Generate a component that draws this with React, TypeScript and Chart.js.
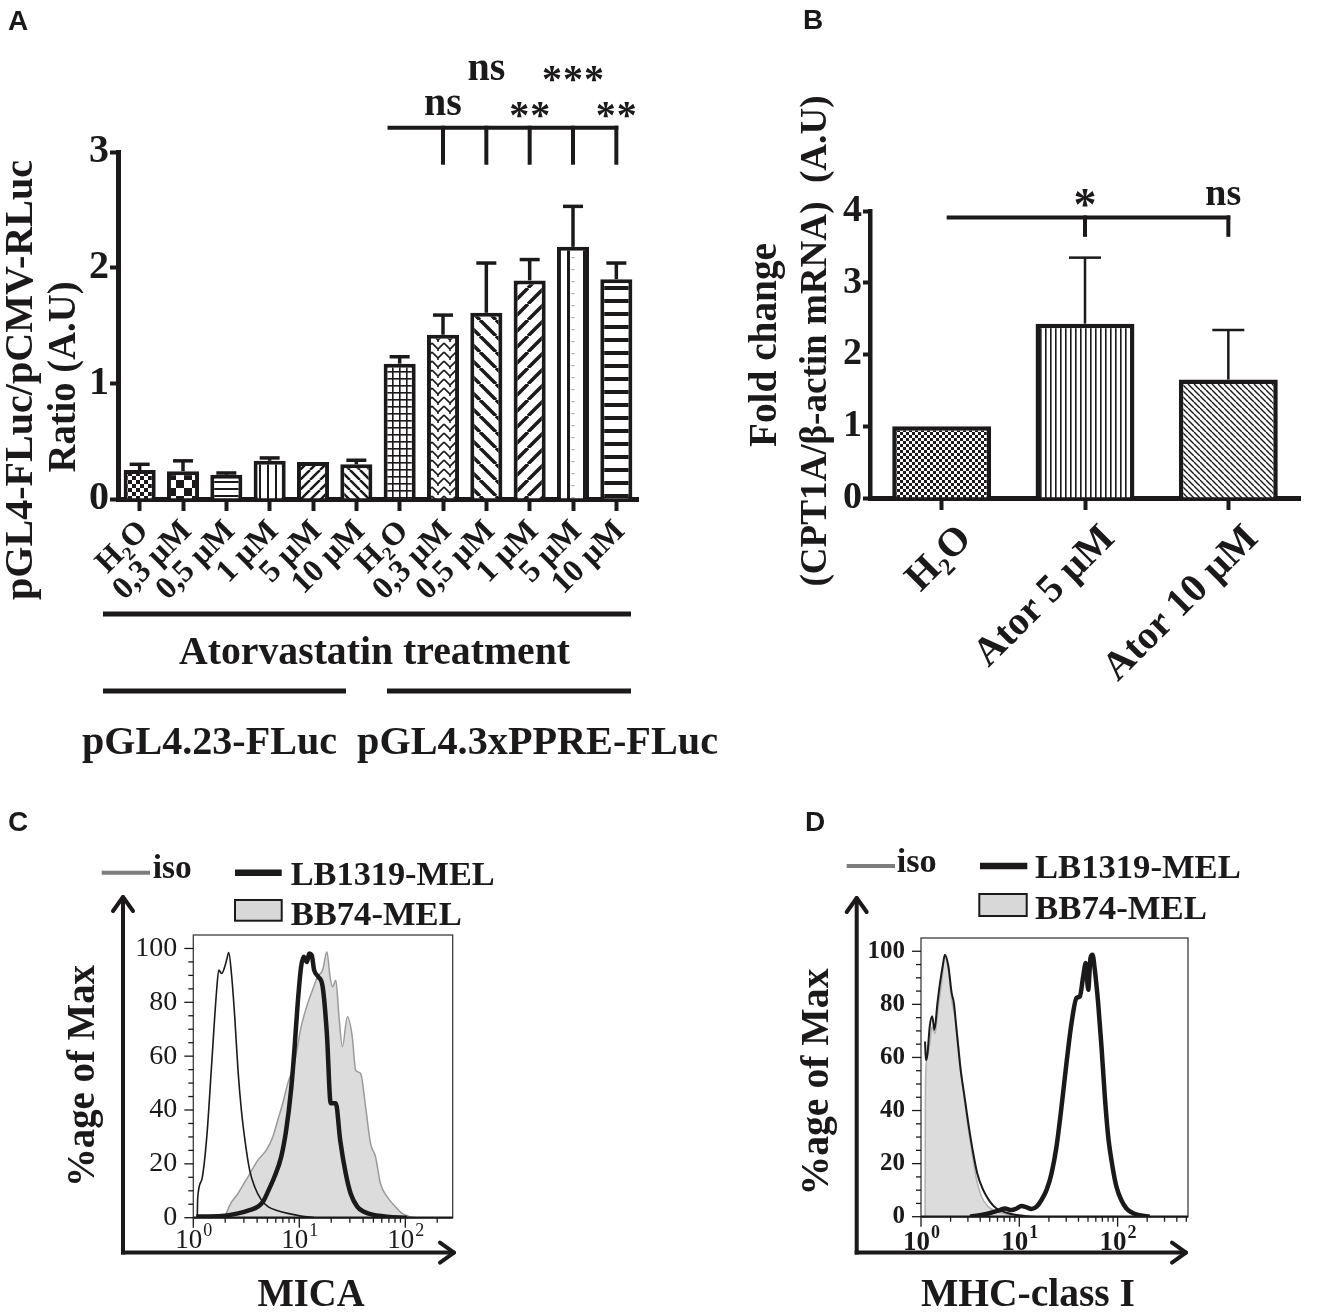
import React, { useEffect, useRef } from 'react';
import { Chart, registerables } from 'chart.js';

Chart.register(...registerables);

const SERIF = '"Liberation Serif", "Times New Roman", Times, serif';
const SANS = '"Liberation Sans", Arial, Helvetica, sans-serif';
const INK = '#1b1919';

// ---------------- Panel A data ----------------
const aCategories = ['H₂O', '0,3 µM', '0,5 µM', '1 µM', '5 µM', '10 µM', 'H₂O', '0,3 µM', '0,5 µM', '1 µM', '5 µM', '10 µM'];
const aMeans = [0.25, 0.24, 0.21, 0.33, 0.32, 0.30, 1.17, 1.42, 1.61, 1.89, 2.18, 1.90];
const aErrors = [0.05, 0.09, 0.015, 0.025, 0, 0.035, 0.06, 0.17, 0.43, 0.18, 0.35, 0.14];
const aPatterns = ['checkFine', 'checkBig', 'hLines', 'vLines', 'diagUp', 'diagDown', 'grid', 'weave', 'diagDownWide', 'diagUpWide', 'vSparse', 'hLinesWide'];
const aSignificance = ['', '', '', '', '', '', '', 'ns', 'ns', '**', '***', '**'];
const aYTitle = ['pGL4-FLuc/pCMV-RLuc', 'Ratio (A.U)'];
const aTreatment = 'Atorvastatin treatment';
const aGroups = ['pGL4.23-FLuc', 'pGL4.3xPPRE-FLuc'];

// ---------------- Panel B data ----------------
const bCategories = ['H₂O', 'Ator 5 µM', 'Ator 10 µM'];
const bMeans = [1.0, 2.43, 1.65];
const bErrors = [0, 0.92, 0.69];
const bPatterns = ['checkTiny', 'vFine', 'diagFine'];
const bSignificance = ['', '*', 'ns'];
const bYTitle = ['Fold change', '(CPT1A/β-actin mRNA)  (A.U)'];

// ---------------- Panel C data (MICA) ----------------
const cIsoX = [1.09, 1.10, 1.20, 1.34, 1.49, 1.66, 1.74, 1.85, 1.98, 2.08, 2.16, 2.29, 2.46, 2.64, 2.84, 3.10, 3.40, 3.79, 4.38, 5.06, 6.27, 7.78, 10.4, 13.8];
const cIsoY = [0, 7.2, 14, 30, 57, 84.5, 92, 90.7, 93.2, 96.3, 98.5, 90.7, 74.6, 54.8, 40, 27.6, 17.7, 11.5, 6.6, 4.1, 2.6, 1.6, 0.6, 0.1];
const cLbX = [1.07, 1.85, 2.64, 3.40, 4.07, 4.54, 5.06, 5.83, 6.75, 7.52, 8.36, 8.99, 9.66, 10.4, 11.0, 11.8, 12.4, 13.1, 13.8, 15.1, 16.6, 18.2, 19.8, 22.1, 24.3, 27.4, 30.5, 35.2, 40.7, 50.5, 67.3, 104];
const cLbY = [0.4, 0.6, 1.6, 2.8, 4.1, 5.9, 9.7, 15.2, 22.6, 32.5, 47.4, 62.3, 79.6, 93.2, 96.9, 95, 98.1, 97.5, 92, 89.5, 85.8, 68.4, 42.5, 42.5, 28.8, 16.5, 9, 4.1, 2.2, 1, 0.4, 0];
const cBbX = [1.98, 2.21, 2.64, 3.28, 4.07, 4.88, 5.62, 6.27, 6.98, 7.78, 8.99, 10.4, 12.0, 13.3, 14.9, 16.6, 18.2, 19.5, 20.6, 22.1, 23.7, 25.5, 28.4, 31.6, 34.0, 37.9, 42.2, 47.0, 52.4, 58.3, 67.3, 80.7, 93.1, 111, 129];
const cBbY = [0, 4.7, 9, 15.2, 21.4, 25.1, 30, 36.3, 42.5, 49.9, 57.3, 70.9, 79.6, 84.5, 89.5, 92, 98.8, 89.5, 85.8, 88.2, 74.6, 63.5, 74.6, 67.2, 54.8, 53.6, 41.2, 27.6, 22.6, 12.7, 7.8, 4.1, 1.6, 0.4, 0];

// ---------------- Panel D data (MHC-class I) ----------------
const dIsoX = [1.10, 1.12, 1.16, 1.23, 1.30, 1.37, 1.47, 1.56, 1.66, 1.75, 1.90, 2.05, 2.16, 2.30, 2.53, 2.74, 3.03, 3.35, 3.73, 4.30, 5.02, 5.87, 7.43, 9.38, 12.8];
const dIsoY = [66, 59, 61, 72, 75.5, 70.4, 80.5, 88, 94.3, 98.7, 94.3, 84.3, 80.5, 70.4, 55.3, 46.5, 35.2, 25.2, 16.4, 10, 5.7, 3.1, 1.5, 0.6, 0];
const dBbX = [1.10, 1.11, 1.16, 1.23, 1.30, 1.39, 1.50, 1.62, 1.75, 1.90, 2.05, 2.21, 2.39, 2.59, 2.91, 3.27, 3.68, 4.13, 4.83, 5.87, 7.43, 9.38, 11.9, 15.0];
const dBbY = [0, 50.3, 60.4, 65.4, 71.7, 69, 79.2, 88, 98, 93, 81.8, 75.5, 65.4, 52.8, 37.7, 25.2, 13.8, 7.5, 3.8, 1.9, 1, 0.6, 0.4, 0];
const dLbX = [3.15, 3.68, 4.65, 5.65, 6.35, 7.14, 8.34, 9.38, 10.5, 11.9, 13.3, 15.0, 16.8, 18.9, 21.3, 23.9, 26.9, 30.2, 34.0, 38.2, 41.3, 44.7, 47.5, 50.2, 53.0, 55.6, 58.6, 63.4, 68.5, 74.1, 80.2, 88.7, 97.3, 109, 123, 144, 168, 212];
const dLbY = [0, 0.4, 1, 1.9, 2.5, 3.1, 2.5, 3.1, 4, 3.5, 2.9, 3.8, 6.3, 10, 16.4, 26.4, 41.5, 57.9, 73, 82.4, 83, 90.6, 95.6, 85.5, 97.5, 98.7, 93, 80.5, 64.2, 45.3, 30.2, 18.9, 11.3, 6.3, 3.1, 1.3, 0.6, 0];

const histLegend = ['iso', 'LB1319-MEL', 'BB74-MEL'];
const histYTitle = '%age of Max';

// ---------------- helpers ----------------
function txt(ctx: any, s: string, x: number, y: number, o: any) {
  ctx.save();
  ctx.font = o.font;
  ctx.fillStyle = o.color || INK;
  ctx.textAlign = o.align || 'center';
  ctx.textBaseline = o.baseline || 'alphabetic';
  ctx.translate(x, y);
  if (o.rotate) ctx.rotate(o.rotate);
  if (o.width) {
    const w = ctx.measureText(s).width;
    ctx.scale(o.width / w, 1);
  }
  ctx.fillText(s, 0, 0);
  ctx.restore();
}

function seg(ctx: any, x1: number, y1: number, x2: number, y2: number, w: number, color = INK, cap = 'butt') {
  ctx.save();
  ctx.strokeStyle = color;
  ctx.lineWidth = w;
  ctx.lineCap = cap;
  ctx.beginPath();
  ctx.moveTo(x1, y1);
  ctx.lineTo(x2, y2);
  ctx.stroke();
  ctx.restore();
}

function makePattern(kind: string): any {
  const c = document.createElement('canvas');
  const g = c.getContext('2d') as CanvasRenderingContext2D;
  const sz = (w: number, h = w) => {
    c.width = w; c.height = h;
    g.fillStyle = '#fff'; g.fillRect(0, 0, w, h);
    g.fillStyle = INK; g.strokeStyle = INK;
  };
  const diag = (s: number, lw: number, up: boolean) => {
    sz(s); g.lineWidth = lw; g.beginPath();
    for (const o of [-s, 0, s]) {
      if (up) { g.moveTo(o, s); g.lineTo(o + s, 0); } else { g.moveTo(o, 0); g.lineTo(o + s, s); }
    }
    g.stroke();
  };
  switch (kind) {
    case 'checkFine': sz(8); g.fillRect(0, 0, 4, 4); g.fillRect(4, 4, 4, 4); break;
    case 'checkBig': sz(16); g.fillRect(0, 0, 8, 8); g.fillRect(8, 8, 8, 8); break;
    case 'hLines': sz(8, 7); g.fillRect(0, 5, 8, 2); break;
    case 'vLines': sz(8); g.fillRect(3, 0, 2, 8); break;
    case 'diagUp': diag(10, 2.5, true); break;
    case 'diagDown': diag(10, 2.5, false); break;
    case 'grid': sz(7); g.fillRect(0, 0, 7, 1.6); g.fillRect(0, 0, 1.6, 7); break;
    case 'weave': sz(12, 9); g.lineWidth = 1.6; g.beginPath(); g.moveTo(0, 1); g.lineTo(6, 7); g.lineTo(12, 1); g.moveTo(6, 7); g.lineTo(6, 9); g.stroke(); break;
    case 'diagDownWide': diag(16, 3.5, false); break;
    case 'diagUpWide': diag(16, 3.5, true); break;
    case 'vSparse': sz(16, 12); g.fillRect(7, 0, 3, 12); g.fillStyle = '#bdbdbd'; g.fillRect(11, 5, 4, 1.2); break;
    case 'hLinesWide': sz(8, 13); g.fillRect(0, 0, 8, 4); break;
    case 'checkTiny': sz(6); g.fillRect(0, 0, 3, 3); g.fillRect(3, 3, 3, 3); break;
    case 'vFine': sz(5); g.fillRect(0, 0, 1.6, 5); break;
    case 'diagFine': diag(6, 1.4, false); break;
    default: sz(4);
  }
  return g.createPattern(c, 'repeat') || '#fff';
}

const fixH = (h: number) => (s: any) => { s.height = h; s.paddingLeft = 0; s.paddingRight = 0; };
const fixW = (w: number) => (s: any) => { s.width = w; s.paddingTop = 0; s.paddingBottom = 0; };

const baseOptions = {
  responsive: true,
  maintainAspectRatio: false,
  animation: false,
  events: [],
  plugins: { legend: { display: false }, tooltip: { enabled: false } },
};

// ---------------- Panel A ----------------
const panelAPlugin = {
  id: 'panelA',
  afterDraw(chart: any) {
    const ctx = chart.ctx;
    const xs = chart.scales.x, ys = chart.scales.y;
    const meta = chart.getDatasetMeta(0);
    meta.data.forEach((bar: any, i: number) => {
      if (!aErrors[i]) return;
      const yt = ys.getPixelForValue(aMeans[i] + aErrors[i]);
      seg(ctx, bar.x, bar.y, bar.x, yt, 3.5);
      seg(ctx, bar.x - 10, yt, bar.x + 10, yt, 3.5);
    });
    // significance bracket
    const first = aSignificance.findIndex((s) => s);
    const last = aSignificance.length - 1;
    const cat = xs.getPixelForValue(1) - xs.getPixelForValue(0);
    const yb = ys.getPixelForValue(3.21);
    const yd = ys.getPixelForValue(2.89);
    seg(ctx, xs.getPixelForValue(first - 1) - 0.28 * cat, yb, xs.getPixelForValue(last) + 2, yb, 4);
    aSignificance.forEach((s, i) => {
      if (!s) return;
      const px = xs.getPixelForValue(i);
      seg(ctx, px, yb - 2, px, yd, 4);
      const upper = (i - first) % 2 === 1;
      if (s === 'ns') {
        txt(ctx, s, px, ys.getPixelForValue(upper ? 3.625 : 3.32), { font: `bold 40px ${SERIF}` });
      } else {
        const n = s.length;
        const by = ys.getPixelForValue(upper ? 3.52 : 3.21);
        for (let k = 0; k < n; k++) {
          txt(ctx, '*', px + (k - (n - 1) / 2) * 21, by, { font: `bold 40px ${SERIF}` });
        }
      }
    });
    // y title
    txt(ctx, aYTitle[0], 32, 380, { font: `bold 39px ${SERIF}`, rotate: -Math.PI / 2, width: 440 });
    txt(ctx, aYTitle[1], 75, 377, { font: `bold 39px ${SERIF}`, rotate: -Math.PI / 2, width: 191 });
    // treatment / group annotations
    seg(ctx, 103, 614, 631, 614, 5);
    txt(ctx, aTreatment, 374.5, 664, { font: `bold 40px ${SERIF}`, width: 391 });
    seg(ctx, 103, 691, 346, 691, 5);
    seg(ctx, 387, 691, 631, 691, 5);
    txt(ctx, aGroups[0], 209.5, 754, { font: `bold 40px ${SERIF}`, width: 255 });
    txt(ctx, aGroups[1], 537.5, 754, { font: `bold 40px ${SERIF}`, width: 361 });
    // panel letter
    txt(ctx, 'A', 8, 30, { font: `bold 28px ${SANS}`, align: 'left' });
  },
};

function configA() {
  return {
    type: 'bar',
    data: {
      labels: aCategories,
      datasets: [{
        data: aMeans,
        backgroundColor: aPatterns.map(makePattern),
        borderColor: INK,
        borderWidth: 4,
        barPercentage: 0.74,
        categoryPercentage: 1,
      }],
    },
    options: {
      ...baseOptions,
      layout: { padding: { top: 152, right: 102, bottom: 0, left: 0 } },
      scales: {
        x: {
          offset: true,
          grid: { offset: false, drawOnChartArea: false, tickLength: 12, tickWidth: 4, tickColor: INK },
          border: { width: 5, color: INK },
          ticks: { color: INK, font: { family: SERIF, size: 32, weight: 'bold' }, minRotation: 45, maxRotation: 45, autoSkip: false, padding: 2, labelOffset: 4 },
          afterFit: fixH(291),
        },
        y: {
          min: 0, max: 3,
          ticks: { stepSize: 1, color: INK, font: { family: SERIF, size: 40, weight: 'bold' }, padding: 1 },
          grid: { drawOnChartArea: false, tickLength: 8, tickWidth: 4, tickColor: INK },
          border: { width: 5, color: INK },
          afterFit: fixW(118),
        },
      },
    },
    plugins: [panelAPlugin],
  };
}

// ---------------- Panel B ----------------
const panelBPlugin = {
  id: 'panelB',
  afterDraw(chart: any) {
    const ctx = chart.ctx;
    const xs = chart.scales.x, ys = chart.scales.y;
    const meta = chart.getDatasetMeta(0);
    meta.data.forEach((bar: any, i: number) => {
      if (!bErrors[i]) return;
      const yt = ys.getPixelForValue(bMeans[i] + bErrors[i]);
      seg(ctx, bar.x, bar.y, bar.x, yt, 2.5);
      seg(ctx, bar.x - 16, yt, bar.x + 16, yt, 2.5);
    });
    const yb = ys.getPixelForValue(3.91);
    const yd = ys.getPixelForValue(3.64);
    const last = bSignificance.length - 1;
    seg(ctx, xs.getPixelForValue(0) + 5, yb, xs.getPixelForValue(last) + 2, yb, 4);
    bSignificance.forEach((s, i) => {
      if (!s) return;
      const px = xs.getPixelForValue(i);
      seg(ctx, px, yb - 2, px, yd, 4);
      if (s === 'ns') txt(ctx, s, px - 5, ys.getPixelForValue(4.08), { font: `bold 38px ${SERIF}` });
      else txt(ctx, s, px, ys.getPixelForValue(3.88), { font: `bold 46px ${SERIF}` });
    });
    txt(ctx, bYTitle[0], 116, 345, { font: `bold 39px ${SERIF}`, rotate: -Math.PI / 2, width: 204 });
    txt(ctx, bYTitle[1], 166, 341, { font: `bold 37px ${SERIF}`, rotate: -Math.PI / 2, width: 491 });
    txt(ctx, 'B', 143, 29, { font: `bold 28px ${SANS}`, align: 'left' });
  },
};

function configB() {
  return {
    type: 'bar',
    data: {
      labels: bCategories,
      datasets: [{
        data: bMeans,
        backgroundColor: bPatterns.map(makePattern),
        borderColor: INK,
        borderWidth: 4.5,
        barPercentage: 0.69,
        categoryPercentage: 1,
      }],
    },
    options: {
      ...baseOptions,
      layout: { padding: { top: 211, right: 20, bottom: 0, left: 0 } },
      scales: {
        x: {
          offset: true,
          grid: { offset: false, drawOnChartArea: false, tickLength: 12, tickWidth: 4, tickColor: INK },
          border: { width: 5, color: INK },
          ticks: { color: INK, font: { family: SERIF, size: 40, weight: 'bold' }, minRotation: 45, maxRotation: 45, autoSkip: false, padding: 6, labelOffset: 24 },
          afterFit: fixH(292),
        },
        y: {
          min: 0, max: 4,
          ticks: { stepSize: 1, color: INK, font: { family: SERIF, size: 38, weight: 'bold' }, padding: 1 },
          grid: { drawOnChartArea: false, tickLength: 7, tickWidth: 4, tickColor: INK },
          border: { width: 4.5, color: INK },
          afterFit: fixW(210),
        },
      },
    },
    plugins: [panelBPlugin],
  };
}

// ---------------- Panels C / D (histograms) ----------------
function histPlugin(p: any) {
  return {
    id: 'hist' + p.letter,
    afterDraw(chart: any) {
      const ctx = chart.ctx;
      const xs = chart.scales.x, ys = chart.scales.y;
      const { left, right, top, bottom } = chart.chartArea;
      // frame
      ctx.save();
      ctx.strokeStyle = '#3c3c3c';
      ctx.lineWidth = 1.3;
      ctx.strokeRect(left, top, right - left, bottom - top);
      ctx.restore();
      seg(ctx, left, bottom, right, bottom, 2.2);
      // y ticks
      ys.ticks.forEach((t: any) => {
        if (t.value > 100) return;
        const py = ys.getPixelForValue(t.value);
        seg(ctx, left - (t.value % 20 === 0 ? 9 : 5), py, left, py, 1.3);
      });
      // x ticks and power-of-ten labels
      xs.ticks.forEach((t: any) => {
        const v = t.value;
        const e = Math.floor(Math.log10(v) + 1e-9);
        const m = v / Math.pow(10, e);
        if (Math.abs(m - Math.round(m)) > 1e-6) return;
        const px = xs.getPixelForValue(v);
        if (px > right + 1) return;
        const major = Math.round(m) === 1;
        seg(ctx, px, bottom, px, bottom + (major ? 10 : 5), 1.3);
        if (major) {
          ctx.save();
          const f1 = `${p.tickWeight} 27px ${SERIF}`;
          const f2 = `${p.tickWeight} 18px ${SERIF}`;
          ctx.font = f1; const w1 = ctx.measureText('10').width;
          ctx.font = f2; const w2 = ctx.measureText(String(e)).width;
          const x0 = px - (w1 + w2) / 2;
          ctx.restore();
          txt(ctx, '10', x0, p.tickBase, { font: f1, align: 'left' });
          txt(ctx, String(e), x0 + w1 + 1, p.tickBase - 12, { font: f2, align: 'left' });
        }
      });
      // arrows
      const ax = p.arrowX, ay = p.arrowY;
      seg(ctx, ax, ay + 2, ax, p.arrowTop, 4);
      seg(ctx, ax - 10, p.arrowTop + 14, ax, p.arrowTop, 4, INK, 'round');
      seg(ctx, ax + 10, p.arrowTop + 14, ax, p.arrowTop, 4, INK, 'round');
      seg(ctx, ax - 2, ay, p.arrowRight, ay, 4);
      seg(ctx, p.arrowRight - 14, ay - 10, p.arrowRight, ay, 4, INK, 'round');
      seg(ctx, p.arrowRight - 14, ay + 10, p.arrowRight, ay, 4, INK, 'round');
      // titles
      txt(ctx, histYTitle, p.yTitle[0], p.yTitle[1], { font: `bold 40px ${SERIF}`, rotate: -Math.PI / 2, width: p.yTitle[2] });
      txt(ctx, p.xTitle, p.xTitlePos[0], p.xTitlePos[1], { font: `bold 40px ${SERIF}`, width: p.xTitlePos[2] });
      // legend
      const L = p.legend;
      seg(ctx, L.isoLine[0], L.isoLine[2], L.isoLine[1], L.isoLine[2], 4, '#7d7d7d');
      txt(ctx, histLegend[0], L.isoText[0], L.isoText[1], { font: `bold 34px ${SERIF}`, align: 'left', width: L.isoText[2] });
      seg(ctx, L.lbLine[0], L.lbLine[2], L.lbLine[1], L.lbLine[2], 6.5);
      txt(ctx, histLegend[1], L.lbText[0], L.lbText[1], { font: `bold 34px ${SERIF}`, align: 'left', width: L.lbText[2] });
      ctx.save();
      ctx.fillStyle = '#d8d8d8';
      ctx.strokeStyle = INK;
      ctx.lineWidth = 2;
      ctx.fillRect(L.box[0], L.box[1], L.box[2], L.box[3]);
      ctx.strokeRect(L.box[0], L.box[1], L.box[2], L.box[3]);
      ctx.restore();
      txt(ctx, histLegend[2], L.bbText[0], L.bbText[1], { font: `bold 34px ${SERIF}`, align: 'left', width: L.bbText[2] });
      txt(ctx, p.letter, p.letterPos[0], p.letterPos[1], { font: `bold 28px ${SANS}`, align: 'left' });
    },
  };
}

const zip = (xs: number[], ys: number[]) => xs.map((x, i) => ({ x, y: ys[i] }));

function configHist(d: any, p: any) {
  return {
    type: 'line',
    data: {
      datasets: [
        { label: histLegend[1], data: zip(d.lbX, d.lbY), borderColor: INK, borderWidth: 4.5, pointRadius: 0, fill: false, cubicInterpolationMode: 'monotone', order: 1 },
        { label: histLegend[0], data: zip(d.isoX, d.isoY), borderColor: INK, borderWidth: p.isoWidth, pointRadius: 0, fill: false, cubicInterpolationMode: 'monotone', order: 2 },
        { label: histLegend[2], data: zip(d.bbX, d.bbY), borderColor: p.bbLine, backgroundColor: '#dcdcdc', borderWidth: 1.5, pointRadius: 0, fill: 'origin', cubicInterpolationMode: 'monotone', order: 3 },
      ],
    },
    options: {
      ...baseOptions,
      layout: { padding: { top: p.top, right: p.right, bottom: 0, left: 0 } },
      scales: {
        x: {
          type: 'logarithmic', min: 1, max: p.xMax,
          ticks: { display: false, autoSkip: false },
          grid: { display: false, drawTicks: false },
          border: { display: false },
          afterFit: fixH(p.xH),
        },
        y: {
          min: 0, max: 105,
          ticks: {
            stepSize: 5, autoSkip: false, padding: 16, color: INK,
            font: { family: SERIF, size: p.yTickSize, weight: p.tickWeight },
            callback: (v: number) => (v % 20 === 0 && v <= 100 ? String(v) : ''),
          },
          grid: { display: false, drawTicks: false },
          border: { display: false },
          afterFit: fixW(p.yW),
        },
      },
    },
    plugins: [histPlugin(p)],
  };
}

const cParams = {
  letter: 'C', letterPos: [8, 41], top: 145, right: 207.3, xH: 94.3, yW: 193.3, xMax: 280,
  isoWidth: 1.6, bbLine: '#9a9a9a', tickWeight: 'normal', yTickSize: 28, tickBase: 458,
  arrowX: 123, arrowY: 462.6, arrowTop: 107, arrowRight: 454,
  yTitle: [94, 286, 222], xTitle: 'MICA', xTitlePos: [311, 516, 107],
  legend: {
    isoLine: [101.7, 150, 82.7], isoText: [152.7, 88, 39],
    lbLine: [235, 281.7, 82.7], lbText: [290.7, 95, 204],
    box: [235, 110, 46.7, 20.7], bbText: [290.7, 135, 171],
  },
};

const dParams = {
  letter: 'D', letterPos: [145, 41], top: 148, right: 132, xH: 95.3, yW: 261, xMax: 520,
  isoWidth: 2, bbLine: '#b0b0b0', tickWeight: 'bold', yTickSize: 25, tickBase: 460,
  arrowX: 196.7, arrowY: 462.6, arrowTop: 108, arrowRight: 526,
  yTitle: [168, 292, 227], xTitle: 'MHC-class I', xTitlePos: [368, 516, 214],
  legend: {
    isoLine: [186.7, 235, 76], isoText: [236.7, 81.7, 40],
    lbLine: [320, 367.3, 76], lbText: [375, 88, 205.8],
    box: [319.3, 104, 47.4, 22], bbText: [375, 129, 172],
  },
};

function ChartBox({ left, top, width, height, make }: any) {
  const ref = useRef<HTMLCanvasElement>(null);
  useEffect(() => {
    const chart = new Chart(ref.current as HTMLCanvasElement, make());
    return () => chart.destroy();
  }, []);
  return (
    <div style={{ position: 'absolute', left, top, width, height }}>
      <canvas ref={ref} />
    </div>
  );
}

export default function App() {
  return (
    <div style={{ position: 'absolute', left: 0, top: 0, width: 1320, height: 1312, background: '#fff', overflow: 'hidden' }}>
      <ChartBox left={660} top={0} width={660} height={790} make={configB} />
      <ChartBox left={0} top={0} width={740} height={790} make={configA} />
      <ChartBox left={0} top={790} width={660} height={522}
        make={() => configHist({ lbX: cLbX, lbY: cLbY, isoX: cIsoX, isoY: cIsoY, bbX: cBbX, bbY: cBbY }, cParams)} />
      <ChartBox left={660} top={790} width={660} height={522}
        make={() => configHist({ lbX: dLbX, lbY: dLbY, isoX: dIsoX, isoY: dIsoY, bbX: dBbX, bbY: dBbY }, dParams)} />
    </div>
  );
}
